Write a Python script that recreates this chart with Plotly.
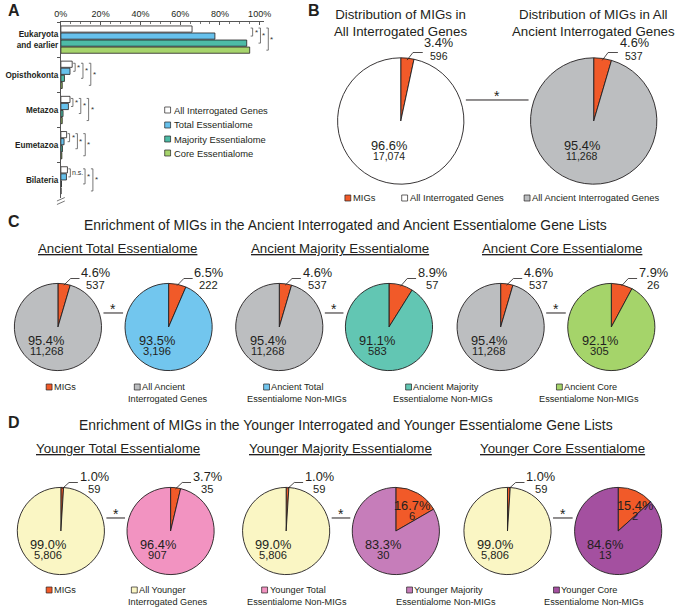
import math
import plotly.graph_objects as go

W, H = 681, 608
FONT = "Liberation Sans, Arial, sans-serif"
INK = "#231F20"
ORANGE = "#F15A29"
GRAY = "#BCBEC0"

# ---------------- Panel A data ----------------
age_groups = ["Eukaryota<br>and earlier", "Opisthokonta", "Metazoa", "Eumetazoa", "Bilateria"]
bar_series_names = ["All Interrogated Genes", "Total Essentialome",
                    "Majority Essentialome", "Core Essentialome"]
pct_all_interrogated = [66.0, 5.7, 4.6, 2.9, 3.3]
pct_total_ess = [77.5, 4.6, 3.8, 1.6, 2.8]
pct_majority_ess = [93.5, 1.8, 1.1, 0.8, 0.3]
pct_core_ess = [95.0, 0.7, 0.7, 0.5, 0.1]
bar_sig_labels = [["*", "*", "*"], ["*", "*", "*"], ["*", "*", "*"],
                  ["*", "*", "*"], ["n.s.", "*", "*"]]
x_tick_values = [0, 20, 40, 60, 80, 100]
x_tick_labels = ["0%", "20%", "40%", "60%", "80%", "100%"]
bar_colors = ["#FFFFFF", "#67C1EC", "#4DBBA6", "#A6D46C"]

# ---------------- Panel B data ----------------
b_titles = ["Distribution of MIGs in<br>All Interrogated Genes",
            "Distribution of MIGs in All<br>Ancient Interrogated Genes"]
b_mig_counts = [596, 537]
b_rest_counts = [17074, 11268]
b_mig_pct = ["3.4%", "4.6%"]
b_rest_pct = ["96.6%", "95.4%"]
b_rest_colors = ["#FFFFFF", GRAY]
b_legend = ["MIGs", "All Interrogated Genes", "All Ancient Interrogated Genes"]

# ---------------- Panel C data ----------------
c_title = "Enrichment of MIGs in the Ancient Interrogated and Ancient Essentialome Gene Lists"
c_subtitles = ["Ancient Total Essentialome", "Ancient Majority Essentialome", "Ancient Core Essentialome"]
c_ref_mig, c_ref_rest = 537, 11268
c_ref_mig_pct, c_ref_rest_pct = "4.6%", "95.4%"
c_ess_mig = [222, 57, 26]
c_ess_rest = [3196, 583, 305]
c_ess_mig_pct = ["6.5%", "8.9%", "7.9%"]
c_ess_rest_pct = ["93.5%", "91.1%", "92.1%"]
c_ess_colors = ["#72C6EE", "#62C6B3", "#A5D46A"]
c_legend = [("MIGs", ""), ("All Ancient", "Interrogated Genes"),
            ("Ancient Total", "Essentialome Non-MIGs"),
            ("Ancient Majority", "Essentialome Non-MIGs"),
            ("Ancient Core", "Essentialome Non-MIGs")]

# ---------------- Panel D data ----------------
d_title = "Enrichment of MIGs in the Younger Interrogated and Younger Essentialome Gene Lists"
d_subtitles = ["Younger Total Essentialome", "Younger Majority Essentialome", "Younger Core Essentialome"]
d_ref_mig, d_ref_rest = 59, 5806
d_ref_mig_pct, d_ref_rest_pct = "1.0%", "99.0%"
d_ess_mig = [35, 6, 2]
d_ess_rest = [907, 30, 13]
d_ess_mig_pct = ["3.7%", "16.7%", "15.4%"]
d_ess_rest_pct = ["96.4%", "83.3%", "84.6%"]
d_ess_colors = ["#F293C1", "#C67DBA", "#A450A0"]
d_ref_color = "#FAF6C4"
d_legend = [("MIGs", ""), ("All Younger", "Interrogated Genes"),
            ("Younger Total", "Essentialome Non-MIGs"),
            ("Younger Majority", "Essentialome Non-MIGs"),
            ("Younger Core", "Essentialome Non-MIGs")]


def fx(px):
    return px / W


def fy(py):
    return 1 - py / H


annotations = []
shapes = []

CW = {'.': .278, ',': .278, '%': .889, ' ': .278}


def text_w(s, size):
    return size * sum(CW.get(c, .556) for c in s)


def txt(x, y, s, size, xanchor='center', yanchor='middle', color=INK, **fk):
    annotations.append(dict(x=fx(x), y=fy(y), xref='paper', yref='paper', text=s,
                            showarrow=False, xanchor=xanchor, yanchor=yanchor,
                            borderpad=0,
                            font=dict(size=size, color=color, family=FONT, **fk)))


def path(points, width=0.8, color=INK):
    d = "M " + " L ".join(f"{fx(x):.5f},{fy(y):.5f}" for x, y in points)
    shapes.append(dict(type='path', xref='paper', yref='paper', path=d,
                       line=dict(color=color, width=width)))


def square(x, y, color, s=6):
    shapes.append(dict(type='rect', xref='paper', yref='paper',
                       x0=fx(x), x1=fx(x + s), y0=fy(y + s / 2), y1=fy(y - s / 2),
                       fillcolor=color, line=dict(color=INK, width=0.7)))


fig = go.Figure()

# ---------------- Panel A ----------------
AX_X0, AX_X1, AX_XMAX = 55, 262, 102
AX_Y0, AX_Y1 = 22, 198
BARGAP = 0.2
series_vals = [pct_all_interrogated, pct_total_ess, pct_majority_ess, pct_core_ess]
for name, vals, col in zip(bar_series_names, series_vals, bar_colors):
    fig.add_trace(go.Bar(y=age_groups, x=vals, name=name, orientation='h',
                         marker=dict(color=col, line=dict(color=INK, width=0.8)),
                         xaxis='x', yaxis='y', showlegend=False))


def x_to_px(v):
    return AX_X0 + (AX_X1 - AX_X0) * v / AX_XMAX


pitch = (AX_Y1 - AX_Y0) / len(age_groups)
slot = pitch * (1 - BARGAP) / 4


def bar_py(i, k):
    return AX_Y0 + (i + 0.5) * pitch + (k - 1.5) * slot


for i in range(len(age_groups)):
    gmax = max(v[i] for v in series_vals)
    bx = x_to_px(gmax) + 3
    for j in range(1, 4):
        y0 = bar_py(i, 0) - 1
        y1 = bar_py(i, j)
        path([(bx - 2, y0), (bx, y0), (bx, y1), (bx - 2, y1)], width=0.8, color="#555")
        lab = bar_sig_labels[i][j - 1]
        txt(bx + 1, (y0 + y1) / 2, lab, 7 if lab != "*" else 8, xanchor='left', color="#333")
        bx += (12 if lab != "*" else 5) + 3

# axis break marks
path([(51, 201), (59, 197.5)], width=0.8, color="#555")
path([(51, 204.5), (59, 201)], width=0.8, color="#555")

# legend A
for k, (name, col) in enumerate(zip(bar_series_names, bar_colors)):
    yy = [110, 125, 139, 153][k]
    square(161, yy, col)
    txt(169, yy, name, 9.4, xanchor='left')

# panel letters
txt(7, 11, "A", 16, weight='bold')
txt(313, 11, "B", 16, weight='bold')
txt(7, 221, "C", 16, weight='bold')
txt(7, 422, "D", 16, weight='bold')


# ---------------- pies ----------------
def pie(cx, cy, r, mig, rest, rest_color, mig_pct, rest_pct, st):
    fig.add_trace(go.Pie(values=[mig, rest], labels=["MIGs", "Non-MIGs"], sort=False,
                         direction='clockwise', rotation=0, textinfo='none',
                         marker=dict(colors=[ORANGE, rest_color], line=dict(color=INK, width=0.9)),
                         domain=dict(x=[fx(cx - r), fx(cx + r)], y=[fy(cy + r), fy(cy - r)]),
                         showlegend=False, hoverinfo='label+value'))
    frac = mig / (mig + rest)
    if frac > 0.12:
        txt(cx + 17, cy - 26, mig_pct, st['pct'])
        txt(cx + 17, cy - 15, f"{mig:,}", st['cnt'])
    else:
        th = math.pi * frac
        p0 = (cx + 0.95 * r * math.sin(th), cy - 0.95 * r * math.cos(th))
        ly = cy - r - 4
        p1 = (p0[0] + st['dx'], ly)
        p2 = (p1[0] + st['hl'], ly)
        path([p0, p1, p2])
        pw = text_w(mig_pct, st['pct'])
        pcx = p2[0] + 2 + pw / 2
        txt(pcx, ly + st['pdy'], mig_pct, st['pct'])
        txt(pcx, ly + st['cdy'], f"{mig:,}", st['cnt'])
    txt(cx + st['ix'], cy + st['iy1'], rest_pct, st['pct'])
    txt(cx + st['ix'], cy + st['iy2'], f"{rest:,}", st['cnt'])


def connector(cxl, cxr, r, y):
    path([(cxl + r + 2, y), (cxr - r - 2, y)], width=1.0)
    txt((cxl + cxr) / 2, y - 4, "*", 14)


ST_B = dict(pct=12.8, cnt=10.5, dx=6, hl=10, pdy=-10, cdy=4, ix=-12, iy1=24, iy2=35)
ST_C = dict(pct=12.8, cnt=11.2, dx=7, hl=9, pdy=-6, cdy=6, ix=-12, iy1=13, iy2=24)
ST_D = dict(pct=12.8, cnt=11.2, dx=7, hl=9, pdy=-6, cdy=6, ix=-13, iy1=13, iy2=24)

# Panel B
B_CX, B_CY, B_R = [402, 599], 121, 64.5
for k in range(2):
    txt(B_CX[k], 23, b_titles[k], 13.3)
    pie(B_CX[k], B_CY, B_R, b_mig_counts[k], b_rest_counts[k], b_rest_colors[k],
        b_mig_pct[k], b_rest_pct[k], ST_B)
connector(B_CX[0], B_CX[1], B_R, 100)
for (sx, col), lab in zip([(345, ORANGE), (403, "#FFFFFF"), (528, GRAY)], b_legend):
    square(sx, 198, col)
    txt(sx + 7, 198, lab, 9.4, xanchor='left')

# Panel C
txt(346, 225, c_title, 13.9)
C_CX, C_CY, C_R = [52, 165, 278, 390, 504, 617], 327, 44.5
for g in range(3):
    txt([113, 340, 567][g], 248, c_subtitles[g], 13.3, lineposition='under')
    pie(C_CX[2 * g], C_CY, C_R, c_ref_mig, c_ref_rest, GRAY, c_ref_mig_pct, c_ref_rest_pct, ST_C)
    pie(C_CX[2 * g + 1], C_CY, C_R, c_ess_mig[g], c_ess_rest[g], c_ess_colors[g],
        c_ess_mig_pct[g], c_ess_rest_pct[g], ST_C)
    connector(C_CX[2 * g], C_CX[2 * g + 1], C_R, C_CY - 14)
c_leg_pos = [(40, 0), (130, 164), (262, 296), (407, 445), (561, 594)]
c_leg_cols = [ORANGE, GRAY] + c_ess_colors
for (sx, c2), col, (l1, l2) in zip(c_leg_pos, c_leg_cols, c_legend):
    square(sx, 387, col)
    txt(sx + 7, 387, l1, 9.2, xanchor='left')
    if l2:
        txt(c2, 398.5, l2, 9.2)

# Panel D
txt(346, 425, d_title, 13.9)
D_CX, D_CY, D_R = [55, 167, 285, 397, 511, 624], 531, 44.5
for g in range(3):
    txt([113, 340, 567][g], 448, d_subtitles[g], 13.3, lineposition='under')
    pie(D_CX[2 * g], D_CY, D_R, d_ref_mig, d_ref_rest, d_ref_color, d_ref_mig_pct, d_ref_rest_pct, ST_D)
    pie(D_CX[2 * g + 1], D_CY, D_R, d_ess_mig[g], d_ess_rest[g], d_ess_colors[g],
        d_ess_mig_pct[g], d_ess_rest_pct[g], ST_D)
    connector(D_CX[2 * g], D_CX[2 * g + 1], D_R, D_CY - 13)
d_leg_pos = [(40, 0), (127, 164), (260, 296), (408, 448), (558, 599)]
d_leg_cols = [ORANGE, d_ref_color] + d_ess_colors
for (sx, c2), col, (l1, l2) in zip(d_leg_pos, d_leg_cols, d_legend):
    square(sx, 590, col)
    txt(sx + 7, 590, l1, 9.2, xanchor='left')
    if l2:
        txt(c2, 601.5, l2, 9.2)

fig.update_layout(
    width=W, height=H, margin=dict(l=0, r=0, t=0, b=0),
    paper_bgcolor="white", plot_bgcolor="white",
    font=dict(family=FONT, color=INK),
    barmode='group', bargap=BARGAP, bargroupgap=0.12,
    showlegend=False,
    xaxis=dict(domain=[fx(AX_X0), fx(AX_X1)], range=[0, AX_XMAX], side='top',
               tickvals=x_tick_values, ticktext=x_tick_labels,
               tickfont=dict(size=9, family=FONT, color=INK),
               showline=True, linecolor="#555", linewidth=1,
               ticks='inside', ticklen=3, tickcolor="#555",
               minor=dict(dtick=5, ticks='inside', ticklen=2, tickcolor="#777"),
               showgrid=False, zeroline=False, anchor='y', fixedrange=True),
    yaxis=dict(domain=[fy(AX_Y1), fy(AX_Y0)], autorange='reversed', type='category',
               showline=True, linecolor="#555", linewidth=1,
               ticks='outside', tickson='boundaries', ticklen=3, tickcolor="#555",
               tickfont=dict(size=8.2, family=FONT, color=INK, weight='bold'),
               showgrid=False, zeroline=False, anchor='x', fixedrange=True),
    annotations=annotations, shapes=shapes,
)

fig.write_html("out.html", config={"displayModeBar": False},
               post_script="document.body.style.margin='0px';document.body.style.overflow='hidden';")
